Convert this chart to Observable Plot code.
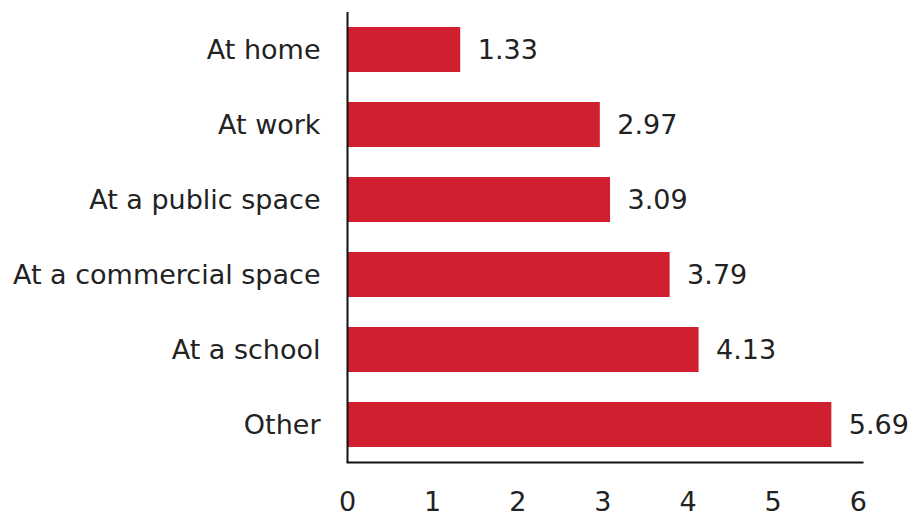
<!DOCTYPE html>
<html>
<head>
<meta charset="utf-8">
<script src="https://cdn.jsdelivr.net/npm/d3@7"></script>
<script src="https://cdn.jsdelivr.net/npm/@observablehq/plot@0.6"></script>
<style>
  html, body { margin: 0; padding: 0; background: #fff; }
  #chart svg { display: block; }
</style>
</head>
<body>
<div id="chart"></div>
<script>
const categories = ["At home", "At work", "At a public space", "At a commercial space", "At a school", "Other"];
const values = [1.33, 2.97, 3.09, 3.79, 4.13, 5.69];
const xTicks = [0, 1, 2, 3, 4, 5, 6];

const data = categories.map((c, i) => ({category: c, value: values[i]}));

const chart = Plot.plot({
  width: 923,
  height: 517,
  marginLeft: 347,
  marginRight: 61,
  marginTop: 12,
  marginBottom: 55,
  style: {fontFamily: "'DejaVu Sans', sans-serif", background: "#fff", color: "#222"},
  x: {domain: [0, 6.05], ticks: xTicks, tickFormat: d3.format("d")},
  y: {domain: categories, paddingInner: 0.4, paddingOuter: 0.2},
  marks: [
    Plot.barX(data, {x: "value", y: "category", fill: "#d0202f"}),
    Plot.text(data, {x: "value", y: "category", text: d => d.value.toFixed(2), dx: 17, textAnchor: "start", fontSize: 27, fill: "#222"}),
    Plot.axisX({ticks: xTicks, tickSize: 0, tickPadding: 29, fontSize: 27, label: null, tickFormat: d3.format("d")}),
    Plot.axisY({tickSize: 0, tickPadding: 27, fontSize: 27, label: null}),
    Plot.ruleX([0], {stroke: "#111", strokeWidth: 2}),
    Plot.frame({anchor: "bottom", stroke: "#111", strokeWidth: 2})
  ]
});
document.getElementById("chart").appendChild(chart);
</script>
</body>
</html>
